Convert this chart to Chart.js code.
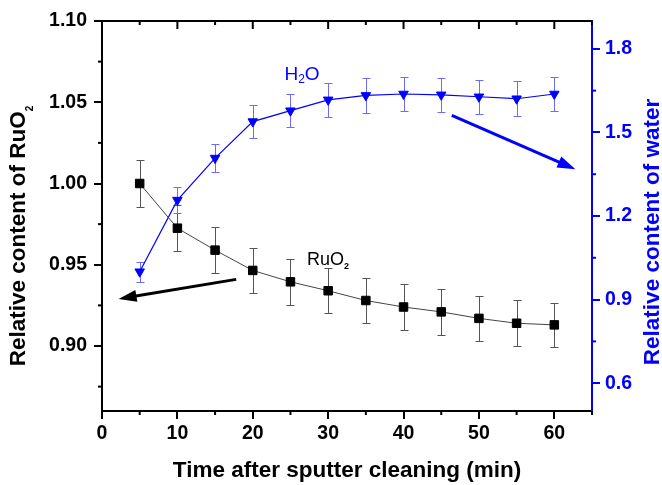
<!DOCTYPE html>
<html>
<head>
<meta charset="utf-8">
<script src="https://cdn.jsdelivr.net/npm/chart.js@4.4.1/dist/chart.umd.min.js"></script>
<style>
  html, body { margin: 0; padding: 0; background: #fff; }
  canvas { display: block; }
</style>
</head>
<body>
<canvas id="myChart" width="662" height="485"></canvas>
<script>
// data
const time = [5, 10, 15, 20, 25, 30, 35, 40, 45, 50, 55, 60];
const ruo2 = [1.000, 0.9725, 0.959, 0.9465, 0.9395, 0.934, 0.928, 0.924, 0.921, 0.917, 0.914, 0.913];
const ruo2Err = [0.0145, 0.014, 0.014, 0.014, 0.014, 0.014, 0.014, 0.014, 0.014, 0.014, 0.014, 0.0137];
const water = [1.0, 1.257, 1.408, 1.539, 1.578, 1.617, 1.633, 1.638, 1.635, 1.628, 1.621, 1.638];
const waterErr = [0.036, 0.047, 0.05, 0.06, 0.06, 0.06, 0.062, 0.062, 0.062, 0.062, 0.062, 0.062];

const xTicks = [0, 10, 20, 30, 40, 50, 60];
const leftTicks = [0.90, 0.95, 1.00, 1.05, 1.10];
const rightTicks = [0.6, 0.9, 1.2, 1.5, 1.8];

// annotation arrows / labels, in data units
const ruo2Arrow = { from: [17.8, 0.941], to: [2.2, 0.929] };
const waterArrow = { from: [46.4, 1.561], to: [62.8, 1.368] };
const ruo2Label = [27.2, 0.950];
const waterLabel = [24.2, 1.687];

const FONT = '"Liberation Sans", Arial, sans-serif';
const BLUE = '#0000ff';

const errorBars = {
  id: 'errorBars',
  beforeDatasetsDraw(chart) {
    const ctx = chart.ctx;
    chart.data.datasets.forEach((ds) => {
      const xs = chart.scales.x;
      const ys = chart.scales[ds.yAxisID];
      ctx.save();
      ctx.strokeStyle = ds.errColor;
      ctx.lineWidth = 1;
      ds.data.forEach((p, j) => {
        const e = ds.errors[j];
        const px = Math.round(xs.getPixelForValue(p.x)) + 0.5;
        const top = Math.round(ys.getPixelForValue(p.y + e)) + 0.5;
        const bot = Math.round(ys.getPixelForValue(p.y - e)) + 0.5;
        ctx.beginPath();
        ctx.moveTo(px, top); ctx.lineTo(px, bot);
        ctx.moveTo(px - 4, top); ctx.lineTo(px + 4, top);
        ctx.moveTo(px - 4, bot); ctx.lineTo(px + 4, bot);
        ctx.stroke();
      });
      ctx.restore();
    });
  }
};

function minors(ticks, lo, hi) {
  const step = ticks[1] - ticks[0];
  const out = [];
  for (let v = ticks[0] - step / 2; v <= hi + 1e-9; v += step) {
    if (v >= lo - 1e-9) out.push(v);
  }
  return out;
}

function seg(ctx, x1, y1, x2, y2) {
  ctx.beginPath();
  ctx.moveTo(x1, y1);
  ctx.lineTo(x2, y2);
  ctx.stroke();
}

function arrow(ctx, x1, y1, x2, y2, color) {
  const ang = Math.atan2(y2 - y1, x2 - x1);
  const len = 18, half = 6;
  ctx.save();
  ctx.strokeStyle = color;
  ctx.fillStyle = color;
  ctx.lineWidth = 3;
  seg(ctx, x1, y1, x2 - Math.cos(ang) * (len - 2), y2 - Math.sin(ang) * (len - 2));
  ctx.beginPath();
  ctx.moveTo(x2, y2);
  ctx.lineTo(x2 - Math.cos(ang) * len - Math.sin(ang) * half, y2 - Math.sin(ang) * len + Math.cos(ang) * half);
  ctx.lineTo(x2 - Math.cos(ang) * len + Math.sin(ang) * half, y2 - Math.sin(ang) * len - Math.cos(ang) * half);
  ctx.closePath();
  ctx.fill();
  ctx.restore();
}

// text with a subscript part, drawn left-aligned from x at baseline y
function subText(ctx, parts, x, y, font, subFont, drop) {
  let cx = x;
  parts.forEach(([t, sub]) => {
    ctx.font = sub ? subFont : font;
    ctx.fillText(t, cx, sub ? y + drop : y);
    cx += ctx.measureText(t).width;
  });
  return cx - x;
}
function subWidth(ctx, parts, font, subFont) {
  let w = 0;
  parts.forEach(([t, sub]) => {
    ctx.font = sub ? subFont : font;
    w += ctx.measureText(t).width;
  });
  return w;
}

const frame = {
  id: 'frame',
  afterDraw(chart) {
    const { ctx, chartArea: a, scales } = chart;
    const { x, y, y2 } = scales;
    ctx.save();
    ctx.lineWidth = 2;
    ctx.strokeStyle = '#000';
    seg(ctx, a.left - 1, a.top, a.right, a.top);
    // top ticks, pointing in
    xTicks.forEach((v) => { const p = x.getPixelForValue(v); seg(ctx, p, a.top, p, a.top + 8); });
    minors(xTicks, x.min, x.max).forEach((v) => {
      const p = x.getPixelForValue(v);
      seg(ctx, p, a.top, p, a.top + 4);
      seg(ctx, p, a.bottom, p, a.bottom + 4);
    });
    minors(leftTicks, y.min, y.max).forEach((v) => {
      const p = y.getPixelForValue(v);
      seg(ctx, a.left - 4, p, a.left, p);
    });
    ctx.strokeStyle = BLUE;
    minors(rightTicks, y2.min, y2.max).forEach((v) => {
      const p = y2.getPixelForValue(v);
      seg(ctx, a.right, p, a.right + 4, p);
    });
    ctx.restore();

    // arrows
    arrow(ctx, x.getPixelForValue(ruo2Arrow.from[0]), y.getPixelForValue(ruo2Arrow.from[1]),
      x.getPixelForValue(ruo2Arrow.to[0]), y.getPixelForValue(ruo2Arrow.to[1]), '#000');
    arrow(ctx, x.getPixelForValue(waterArrow.from[0]), y2.getPixelForValue(waterArrow.from[1]),
      x.getPixelForValue(waterArrow.to[0]), y2.getPixelForValue(waterArrow.to[1]), BLUE);

    ctx.save();
    ctx.textAlign = 'left';
    ctx.textBaseline = 'alphabetic';
    // series labels
    ctx.fillStyle = '#000';
    subText(ctx, [['RuO', false], ['2', true]],
      x.getPixelForValue(ruo2Label[0]), y.getPixelForValue(ruo2Label[1]),
      '18px ' + FONT, 'bold 9px ' + FONT, 4);
    ctx.fillStyle = BLUE;
    subText(ctx, [['H', false], ['2', true], ['O', false]],
      x.getPixelForValue(waterLabel[0]), y2.getPixelForValue(waterLabel[1]),
      '19px ' + FONT, '12px ' + FONT, 3);

    // axis titles
    const tFont = 'bold 22.5px ' + FONT;
    ctx.fillStyle = '#000';
    ctx.font = tFont;
    ctx.textAlign = 'center';
    ctx.fillText('Time after sputter cleaning (min)', (a.left + a.right) / 2, 477);

    ctx.textAlign = 'left';
    const lp = [['Relative content of RuO', false], ['2', true]];
    const lw = subWidth(ctx, lp, tFont, 'bold 10px ' + FONT);
    ctx.save();
    ctx.translate(25, 236);
    ctx.rotate(-Math.PI / 2);
    subText(ctx, lp, -lw / 2, 0, tFont, 'bold 10px ' + FONT, 8);
    ctx.restore();

    ctx.fillStyle = BLUE;
    ctx.font = tFont;
    ctx.textAlign = 'center';
    ctx.save();
    ctx.translate(659, 232);
    ctx.rotate(-Math.PI / 2);
    ctx.fillText('Relative content of water', 0, 0);
    ctx.restore();
    ctx.restore();
  }
};

const tickFont = { family: FONT, size: 19.5, weight: 'bold' };

new Chart(document.getElementById('myChart').getContext('2d'), {
  type: 'line',
  data: {
    datasets: [
      {
        label: 'RuO2',
        yAxisID: 'y',
        data: time.map((t, i) => ({ x: t, y: ruo2[i] })),
        errors: ruo2Err,
        errColor: '#555',
        borderColor: '#444',
        borderWidth: 1,
        pointStyle: 'rect',
        pointRadius: 6,
        pointBackgroundColor: '#000',
        pointBorderColor: '#000',
        pointBorderWidth: 1,
      },
      {
        label: 'H2O',
        yAxisID: 'y2',
        data: time.map((t, i) => ({ x: t, y: water[i] })),
        errors: waterErr,
        errColor: '#6b6bff',
        borderColor: BLUE,
        borderWidth: 1.2,
        pointStyle: 'triangle',
        pointRotation: 180,
        pointRadius: 5.5,
        pointBackgroundColor: BLUE,
        pointBorderColor: BLUE,
        pointBorderWidth: 1,
      },
    ],
  },
  options: {
    responsive: false,
    animation: false,
    layout: { padding: { top: 21, left: 0, right: 0, bottom: 0 } },
    plugins: { legend: { display: false }, tooltip: { enabled: false } },
    scales: {
      x: {
        type: 'linear',
        min: 0,
        max: 65,
        afterBuildTicks: (s) => { s.ticks = xTicks.map((v) => ({ value: v })); },
        afterFit: (s) => { s.height = 74; },
        ticks: { font: tickFont, color: '#000', padding: 3, maxRotation: 0 },
        grid: { drawOnChartArea: false, color: '#000', lineWidth: 2, tickLength: 8 },
        border: { color: '#000', width: 2 },
      },
      y: {
        position: 'left',
        min: 0.86,
        max: 1.10,
        afterBuildTicks: (s) => { s.ticks = leftTicks.map((v) => ({ value: v })); },
        afterFit: (s) => { s.width = 102; },
        ticks: { font: tickFont, color: '#000', padding: 7, callback: (v) => v.toFixed(2) },
        grid: { drawOnChartArea: false, color: '#000', lineWidth: 2, tickLength: 8 },
        border: { color: '#000', width: 2 },
      },
      y2: {
        position: 'right',
        min: 0.5,
        max: 1.9,
        afterBuildTicks: (s) => { s.ticks = rightTicks.map((v) => ({ value: v })); },
        afterFit: (s) => { s.width = 70; },
        ticks: { font: tickFont, color: BLUE, padding: 5, callback: (v) => v.toFixed(1) },
        grid: { drawOnChartArea: false, color: BLUE, lineWidth: 2, tickLength: 8 },
        border: { color: BLUE, width: 2 },
      },
    },
  },
  plugins: [errorBars, frame],
});
</script>
</body>
</html>
